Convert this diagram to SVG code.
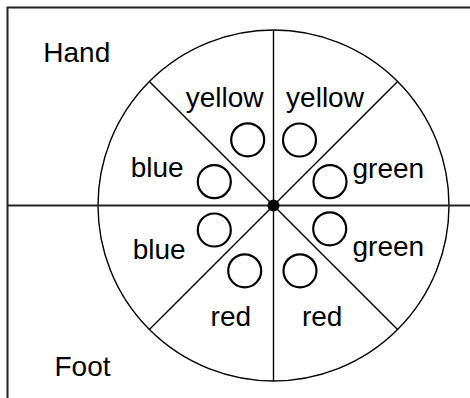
<svg xmlns="http://www.w3.org/2000/svg" width="470" height="398" viewBox="0 0 470 398">
<style>
text{font-family:"Liberation Sans",Arial,Helvetica,sans-serif;font-size:28px;fill:#000;text-anchor:middle}
.ln{stroke:#000;stroke-width:1.4;fill:none}
.spot{stroke:#000;stroke-width:2.2;fill:#fff}
</style>
<rect width="470" height="398" fill="#fff"/>
<g id="frame">
<path d="M7.5,400 V7.5 H472" fill="none" stroke="#222" stroke-width="2"/>
</g>
<g id="wheel">
<circle cx="273.5" cy="205.5" r="175.5" class="ln"/>
</g>
<g id="connectors">
<line x1="7" y1="205.5" x2="470" y2="205.5" stroke="#222" stroke-width="2"/>
<line x1="273.5" y1="30" x2="273.5" y2="381" class="ln"/>
<line x1="149.4" y1="81.4" x2="397.6" y2="329.6" class="ln"/>
<line x1="397.6" y1="81.4" x2="149.4" y2="329.6" class="ln"/>
</g>
<g id="center"><circle cx="273.5" cy="205.5" r="6" fill="#000"/></g>
<g id="hand-label"><text x="76.8" y="61.5">Hand</text></g>
<g id="foot-label"><text x="82.5" y="376">Foot</text></g>
<g id="yellow-left"><text x="224.7" y="106.5">yellow</text><circle cx="247.7" cy="139.8" r="16.5" class="spot"/></g>
<g id="yellow-right"><text x="325" y="106.5">yellow</text><circle cx="299.5" cy="140" r="16.5" class="spot"/></g>
<g id="blue-upper"><text x="157.2" y="176.7">blue</text><circle cx="214.3" cy="181.7" r="16.5" class="spot"/></g>
<g id="blue-lower"><text x="159.2" y="259.3">blue</text><circle cx="214.3" cy="230" r="16.5" class="spot"/></g>
<g id="green-upper"><text x="388.3" y="177.7">green</text><circle cx="330" cy="181.7" r="16.5" class="spot"/></g>
<g id="green-lower"><text x="388.3" y="256">green</text><circle cx="329.7" cy="228.8" r="16.5" class="spot"/></g>
<g id="red-left"><text x="230.8" y="326">red</text><circle cx="244.7" cy="270.8" r="16.5" class="spot"/></g>
<g id="red-right"><text x="322.2" y="326">red</text><circle cx="300" cy="270.8" r="16.5" class="spot"/></g>
</svg>
